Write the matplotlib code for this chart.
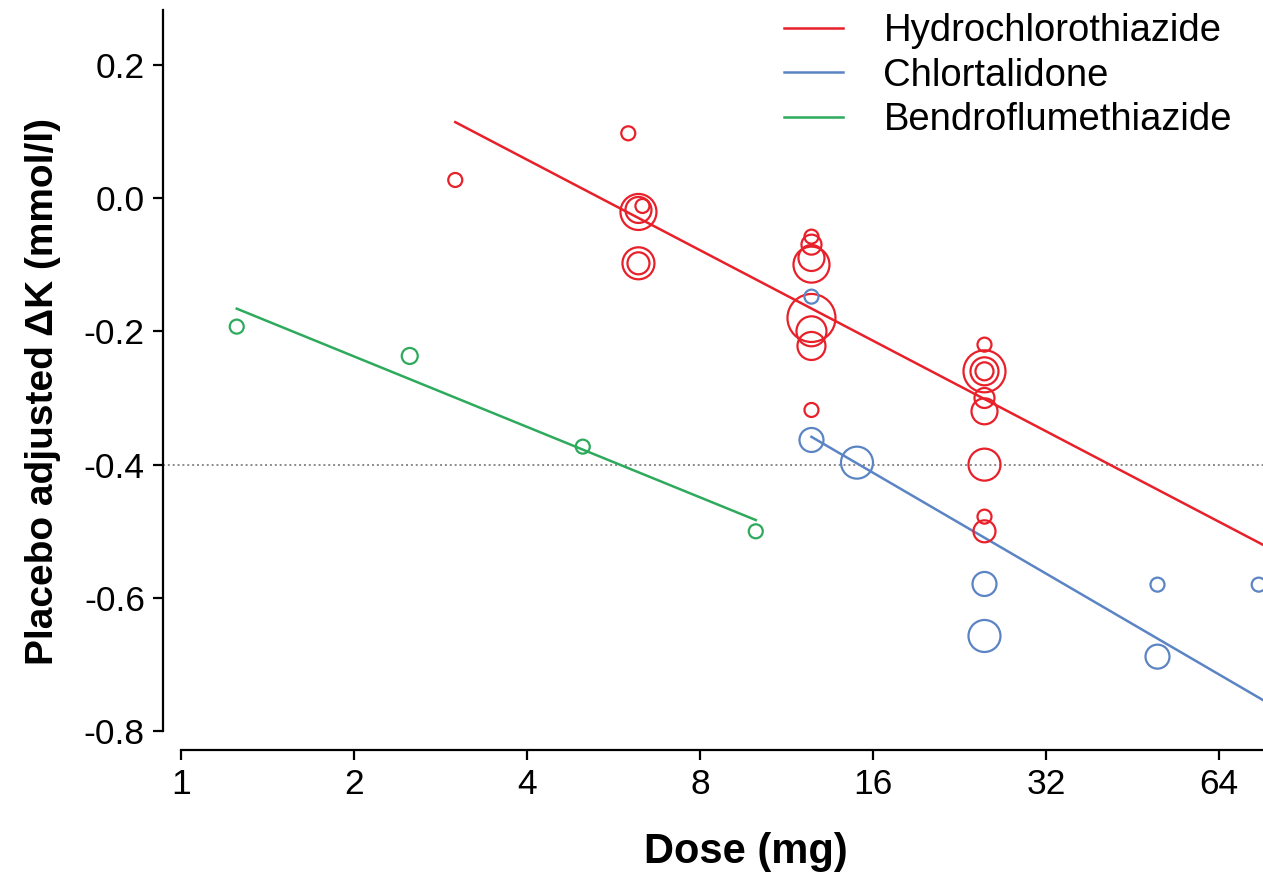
import numpy as np
import matplotlib.pyplot as plt

plt.rcParams['font.family'] = ['Liberation Sans', 'DejaVu Sans']

# study-level estimates: dose (mg), placebo adjusted change in K, study weight
hctz_dose = [3.0, 6.0, 6.25, 6.25, 6.35, 6.25, 6.25,
             12.5, 12.5, 12.5, 12.5, 12.5, 12.5, 12.5, 12.5,
             25, 25, 25, 25, 25, 25, 25, 25, 25]
hctz_dk = [0.027, 0.097, -0.021, -0.018, -0.012, -0.098, -0.098,
           -0.058, -0.070, -0.090, -0.100, -0.180, -0.200, -0.222, -0.318,
           -0.220, -0.260, -0.260, -0.260, -0.300, -0.320, -0.400, -0.478, -0.500]
hctz_w = [7, 7, 18, 13, 7, 16, 11,
          7, 10, 13, 18, 24, 15, 14, 7,
          7, 21, 14, 9, 10, 13, 16, 7, 11]

chlor_dose = [12.5, 12.5, 15, 25, 25, 50, 50, 75]
chlor_dk = [-0.148, -0.363, -0.397, -0.579, -0.657, -0.580, -0.688, -0.580]
chlor_w = [7, 12, 16, 12, 16, 7, 12, 7]

bendro_dose = [1.25, 2.5, 5, 10]
bendro_dk = [-0.193, -0.237, -0.373, -0.500]
bendro_w = [7, 8, 7, 7]

# meta-regression lines: dK = a + b * log2(dose), drawn from lo to hi mg
fits = {
    "Hydrochlorothiazide": (0.329, -0.1358, 3.0, 100),
    "Chlortalidone": (0.193, -0.1513, 12.5, 100),
    "Bendroflumethiazide": (-0.132, -0.1057, 1.25, 10),
}

colors = {
    "Hydrochlorothiazide": "#E8202A",
    "Chlortalidone": "#5B84C4",
    "Bendroflumethiazide": "#2EAA5C",
}

fig = plt.figure(figsize=(12.63, 8.74), dpi=100)
ax = fig.add_axes([0.129, 0.1419, 0.871, 0.8467])

ax.set_xscale("log", base=2)
ax.set_xlim(0.93, 76.3)
ax.set_ylim(-0.828, 0.282)

ax.axhline(-0.4, color="#8a8a8a", linestyle=(0, (1, 1.5)), linewidth=1.4, zorder=1)

series = [
    ("Hydrochlorothiazide", hctz_dose, hctz_dk, hctz_w),
    ("Chlortalidone", chlor_dose, chlor_dk, chlor_w),
    ("Bendroflumethiazide", bendro_dose, bendro_dk, bendro_w),
]

for name, dose, dk, w in series:
    a, b, lo, hi = fits[name]
    xs = np.array([lo, hi])
    ax.plot(xs, a + b * np.log2(xs), color=colors[name], linewidth=1.8, label=name, zorder=3)
    sizes = (1.44 * np.array(w)) ** 2
    ax.scatter(dose, dk, s=sizes, facecolors="none", edgecolors=colors[name],
               linewidths=1.6, zorder=4, clip_on=False)

# axis styling (Prism-like, offset axes)
for side in ["top", "right"]:
    ax.spines[side].set_visible(False)
ax.spines["left"].set_bounds(-0.8, 0.282)
ax.spines["bottom"].set_bounds(1, 76.3)
ax.spines["left"].set_linewidth(1.6)
ax.spines["bottom"].set_linewidth(1.6)

ax.set_xticks([1, 2, 4, 8, 16, 32, 64])
ax.set_xticklabels(["1", "2", "4", "8", "16", "32", "64"])
ax.xaxis.set_minor_locator(plt.NullLocator())
ax.set_yticks([0.2, 0.0, -0.2, -0.4, -0.6, -0.8])
ax.set_yticklabels(["0.2", "0.0", "-0.2", "-0.4", "-0.6", "-0.8"])
ax.tick_params(axis="both", length=7, width=1.6, labelsize=25.5, pad=6)

ax.set_xlabel("Dose (mg)", fontsize=30, fontweight="bold", va="center")
ax.xaxis.set_label_coords(0.53, -0.138)
ax.set_ylabel("Placebo adjusted \u0394K (mmol/l)", fontsize=28, fontweight="bold")
ax.yaxis.set_label_coords(-0.093, 0.485)

leg = ax.legend(loc="upper right", bbox_to_anchor=(1.003, 1.042), frameon=False,
                fontsize=27.5, handlelength=1.55, handletextpad=1.05, labelspacing=0.22)

fig.savefig("out.png", dpi=100)
